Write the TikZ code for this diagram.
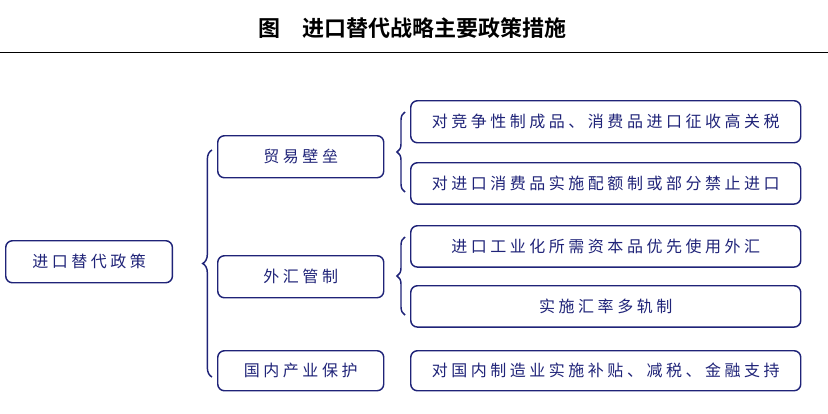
\documentclass[tikz,border=0pt]{standalone}
\usepackage{fontspec}
\newfontfamily\cjk[LetterSpace=22]{Noto Sans CJK SC}
\newfontfamily\cjkb{Noto Sans CJK SC Bold}
\usetikzlibrary{decorations.pathreplacing}
\definecolor{navy}{RGB}{31,35,120}
\tikzset{
  box/.style={draw=navy, line width=1.1pt, rounded corners=5pt, text=navy, font=\cjk\fontsize{12}{14}\selectfont, anchor=north west, inner sep=0pt},
  brc/.style={draw=navy, line width=1.1pt, decorate, decoration={brace, amplitude=7pt, mirror}}
}
\begin{document}
\begin{tikzpicture}[x=0.75pt,y=0.75pt,yscale=-1,xscale=1]
\useasboundingbox (0,0) rectangle (828,414);

% title
\node (title) at (412,28) {\cjkb\fontsize{16.5}{19}\selectfont 图\quad 进口替代战略主要政策措施};
\draw [line width=0.6pt] (0,52) -- (828,52);

% level 1
\node [box, minimum width=125pt, minimum height=31.5pt] (root) at (5,240) {进口替代政策};

% level 2
\node [box, minimum width=124.5pt, minimum height=31.5pt] (trade) at (217,135) {贸易壁垒};
\node [box, minimum width=124.5pt, minimum height=31.5pt] (fx) at (217,255) {外汇管制};
\node [box, minimum width=124.5pt, minimum height=30pt] (dom) at (217,350) {国内产业保护};

% level 3
\node [box, minimum width=292.5pt, minimum height=31.5pt] (t1) at (410,100) {对竞争性制成品、消费品进口征收高关税};
\node [box, minimum width=292.5pt, minimum height=31pt] (t2) at (410,162) {对进口消费品实施配额制或部分禁止进口};
\node [box, minimum width=292.5pt, minimum height=31pt] (f1) at (410,225) {进口工业化所需资本品优先使用外汇};
\node [box, minimum width=292.5pt, minimum height=31pt] (f2) at (410,285) {实施汇率多轨制};
\node [box, minimum width=292.5pt, minimum height=30pt] (d1) at (410,350) {对国内制造业实施补贴、减税、金融支持};

% braces
\coordinate (b1a) at (212,150);
\coordinate (b1b) at (212,377);
\draw [brc] (b1a) -- (b1b);
\coordinate (b2a) at (405,112);
\coordinate (b2b) at (405,192);
\draw [brc, decoration={amplitude=6pt}] (b2a) -- (b2b);
\coordinate (b3a) at (405,237);
\coordinate (b3b) at (405,315);
\draw [brc, decoration={amplitude=6pt}] (b3a) -- (b3b);
\end{tikzpicture}
\end{document}
